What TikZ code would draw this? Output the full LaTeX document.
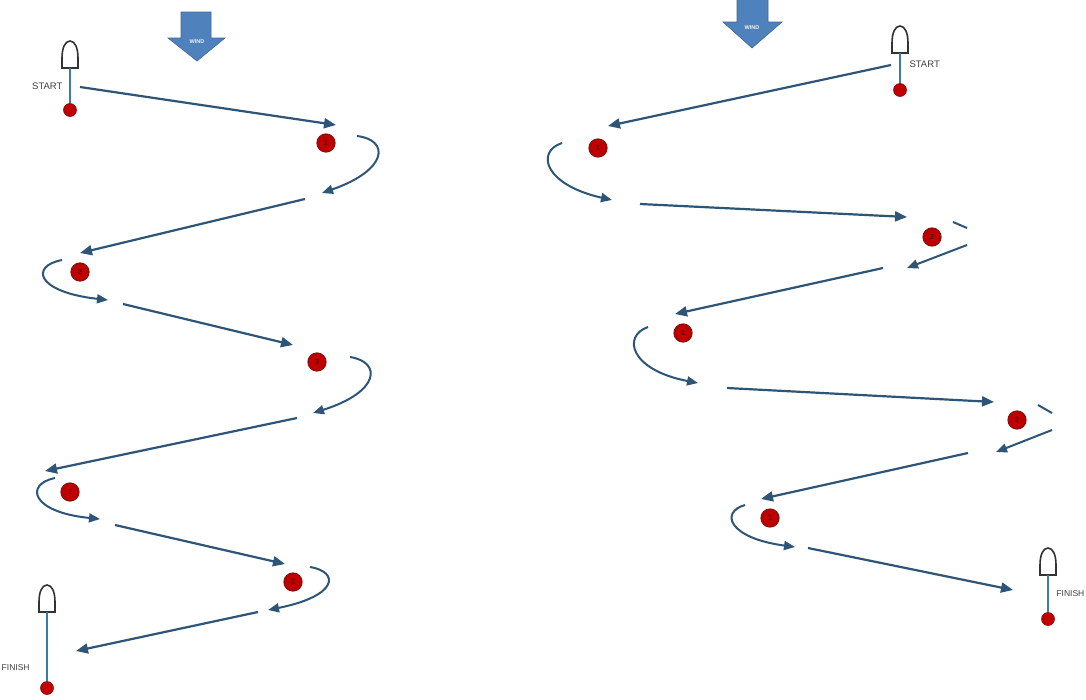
\documentclass[tikz,border=0pt]{standalone}
\usepackage{fontspec}
\setmainfont{Liberation Sans}
\usetikzlibrary{arrows.meta,calc}
\definecolor{course}{HTML}{2E5577}
\definecolor{windblue}{HTML}{4F81BD}
\definecolor{markred}{HTML}{C00000}
\definecolor{markedge}{HTML}{8A1010}
\definecolor{marknum}{HTML}{6A0000}
\definecolor{pole}{HTML}{3A7CA5}
\definecolor{lbl}{HTML}{404040}
\tikzset{
  leg/.style={draw=course, line width=2.2pt, -{Triangle[length=12pt,width=10pt]}},
  rounding/.style={draw=course, line width=2pt, -{Triangle[length=11pt,width=9pt]}},
  plain/.style={draw=course, line width=2pt},
  markbuoy/.style={circle, fill=markred, draw=markedge, line width=1.2pt, minimum size=18pt, inner sep=0pt, font=\fontsize{7.5}{7.5}\selectfont\bfseries, text=marknum},
  ball/.style={circle, fill=markred, draw=markedge, line width=0.6pt, minimum size=13pt, inner sep=0pt},
  boattxt/.style={font=\fontsize{9.5}{10}\selectfont, text=lbl},
  edgetxt/.style={font=\fontsize{8.5}{9}\selectfont, text=lbl, inner sep=0.5pt},
  windarrow/.style={fill=windblue, draw=windblue!80!black, line width=0.6pt},
  windtxt/.style={font=\fontsize{5.5}{6}\selectfont\bfseries, text=white!90!windblue}
}
\newcommand{\boatshape}[1]{%
  \draw[line width=1.6pt, draw=black!80, fill=white] ($(#1)+(-8,0)$) -- ++(0,-10) .. controls +(0,-10) and +(-5,0) .. ++(8,-17) .. controls +(5,0) and +(0,-10) .. ++(8,17) -- ++(0,10) -- cycle;}
\begin{document}
\begin{tikzpicture}[x=1pt,y=-1pt]
\clip (0,0) rectangle (1086,699);
\fill[white] (0,0) rectangle (1086,699);

% ---------- wind arrows ----------
\path[windarrow] (181,12) -- (211,12) -- (211,38) -- (225,38) -- (197,61) -- (168,38) -- (181,38) -- cycle;
\node[windtxt] (wl) at (197,42) {WIND};
\path[windarrow] (737,-2) -- (768,-2) -- (768,22) -- (782,22) -- (752,48) -- (723,22) -- (737,22) -- cycle;
\node[windtxt] (wr) at (752,28) {WIND};

% ---------- LEFT COURSE ----------
\coordinate (ls) at (70,68);
\boatshape{ls}
\draw[pole, line width=2pt] (70,68) -- (70,104);
\node[ball] (lsball) at (70,110) {};
\node[boattxt, anchor=east] (lstart) at (66,86) {START};

\node[markbuoy] (L1) at (326,143) {1};
\node[markbuoy] (L2) at (80,272) {2};
\node[markbuoy] (L3) at (317,362) {3};
\node[markbuoy] (L4) at (70,492) {2};
\node[markbuoy] (L5) at (293,582) {3};

\coordinate (la0) at (80,87);   \coordinate (la1) at (336,125);
\coordinate (lb0) at (305,199); \coordinate (lb1) at (80,253);
\coordinate (lc0) at (123,304); \coordinate (lc1) at (293,345);
\coordinate (ld0) at (297,418); \coordinate (ld1) at (45,471);
\coordinate (le0) at (115,525); \coordinate (le1) at (285,564);
\coordinate (lf0) at (258,612); \coordinate (lf1) at (76,651);
\draw[leg] (la0) -- (la1);
\draw[leg] (lb0) -- (lb1);
\draw[leg] (lc0) -- (lc1);
\draw[leg] (ld0) -- (ld1);
\draw[leg] (le0) -- (le1);
\draw[leg] (lf0) -- (lf1);

\coordinate (lr1a) at (357,136); \coordinate (lr1b) at (322,193);
\draw[rounding] (lr1a) .. controls (390,140) and (388,170) .. (lr1b);
\coordinate (lr2a) at (62,260); \coordinate (lr2b) at (108,300);
\draw[rounding] (lr2a) .. controls (30,266) and (36,292) .. (lr2b);
\coordinate (lr3a) at (350,357); \coordinate (lr3b) at (313,413);
\draw[rounding] (lr3a) .. controls (382,362) and (380,392) .. (lr3b);
\coordinate (lr4a) at (55,478); \coordinate (lr4b) at (100,519);
\draw[rounding] (lr4a) .. controls (25,484) and (30,512) .. (lr4b);
\coordinate (lr5a) at (310,567); \coordinate (lr5b) at (268,610);
\draw[rounding] (lr5a) .. controls (340,572) and (338,596) .. (lr5b);

\coordinate (lfin) at (47,612);
\boatshape{lfin}
\draw[pole, line width=2pt] (47,612) -- (47,682);
\node[ball] (lfball) at (47,688) {};
\node[edgetxt, anchor=west] (lfinish) at (1,668) {FINISH};

% ---------- RIGHT COURSE ----------
\coordinate (rs) at (900,53);
\boatshape{rs}
\draw[pole, line width=2pt] (900,53) -- (900,84);
\node[ball] (rsball) at (900,90) {};
\node[boattxt, anchor=west] (rstart) at (906,64) {START};

\node[markbuoy] (R1) at (598,148) {1};
\node[markbuoy] (R2) at (932,237) {2};
\node[markbuoy] (R3) at (683,333) {1};
\node[markbuoy] (R4) at (1017,420) {2};
\node[markbuoy] (R5) at (770,518) {1};

\coordinate (ra0) at (891,65);  \coordinate (ra1) at (608,126);
\coordinate (rb0) at (640,204); \coordinate (rb1) at (907,217);
\coordinate (rc0) at (883,268); \coordinate (rc1) at (675,314);
\coordinate (rd0) at (727,388); \coordinate (rd1) at (994,402);
\coordinate (re0) at (968,453); \coordinate (re1) at (761,499);
\coordinate (rf0) at (808,548); \coordinate (rf1) at (1013,590);
\draw[leg] (ra0) -- (ra1);
\draw[leg] (rb0) -- (rb1);
\draw[leg] (rc0) -- (rc1);
\draw[leg] (rd0) -- (rd1);
\draw[leg] (re0) -- (re1);
\draw[leg] (rf0) -- (rf1);

\coordinate (rr1a) at (562,143); \coordinate (rr1b) at (612,200);
\draw[rounding] (rr1a) .. controls (535,152) and (545,185) .. (rr1b);
\coordinate (rr3a) at (648,327); \coordinate (rr3b) at (698,383);
\draw[rounding] (rr3a) .. controls (622,336) and (630,370) .. (rr3b);
\coordinate (rr5a) at (745,505); \coordinate (rr5b) at (795,547);
\draw[rounding] (rr5a) .. controls (720,512) and (728,538) .. (rr5b);

\coordinate (rd2a) at (953,222); \coordinate (rd2b) at (967,228);
\draw[plain] (rd2a) -- (rd2b);
\coordinate (rr2a) at (967,245); \coordinate (rr2b) at (907,268);
\draw[rounding] (rr2a) -- (rr2b);
\coordinate (rd4a) at (1038,405); \coordinate (rd4b) at (1052,413);
\draw[plain] (rd4a) -- (rd4b);
\coordinate (rr4a) at (1052,430); \coordinate (rr4b) at (996,452);
\draw[rounding] (rr4a) -- (rr4b);

\coordinate (rfin) at (1048,575);
\boatshape{rfin}
\draw[pole, line width=2pt] (1048,575) -- (1048,613);
\node[ball] (rfball) at (1048,619) {};
\node[edgetxt, anchor=east] (rfinish) at (1085,594) {FINISH};
\end{tikzpicture}
\end{document}
